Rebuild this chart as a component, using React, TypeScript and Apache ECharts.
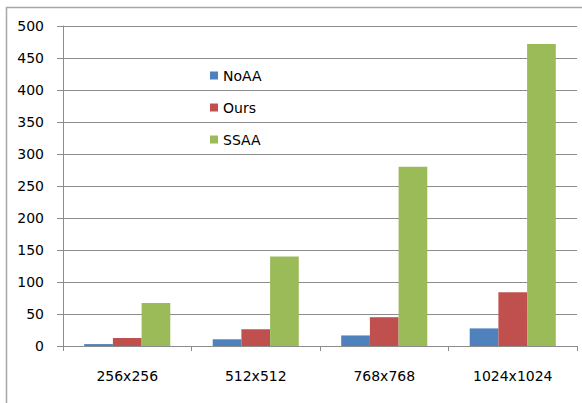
import React, { useEffect, useRef } from "react";
import * as echarts from "echarts";

const categories = ["256x256", "512x512", "768x768", "1024x1024"];
const noAA = [3, 10.5, 16.5, 27.5];
const ours = [12.5, 26, 45, 84];
const ssaa = [67, 140, 280, 472];
const yTicks = { min: 0, max: 500, interval: 50 };

export default function App() {
  const ref = useRef<HTMLDivElement>(null);
  useEffect(() => {
    if (!ref.current) return;
    const chart = echarts.init(ref.current, undefined, { renderer: "svg" });
    const font = "DejaVu Sans";
    chart.setOption({
      animation: false,
      backgroundColor: "#ffffff",
      textStyle: { fontFamily: font },
      graphic: [
        {
          type: "rect",
          shape: { x: 6.5, y: 7.5, width: 620, height: 450 },
          style: { fill: "none", stroke: "#a6a6a6", lineWidth: 1.5 },
          silent: true,
        },
      ],
      grid: { left: 63, top: 26, right: 5, bottom: 57, containLabel: false },
      legend: {
        orient: "vertical",
        left: 205,
        top: 62,
        itemWidth: 8,
        itemHeight: 8,
        itemGap: 15,
        icon: "rect",
        textStyle: { fontFamily: font, fontSize: 14, color: "#000", lineHeight: 17, padding: [0, 0, 0, 0] },
        data: ["NoAA", "Ours", "SSAA"],
      },
      xAxis: {
        type: "category",
        data: categories,
        boundaryGap: true,
        axisLine: { lineStyle: { color: "#8c8c8c", width: 1 } },
        axisTick: { show: true, length: 5, lineStyle: { color: "#8c8c8c" } },
        axisLabel: { fontFamily: font, fontSize: 14, color: "#000", margin: 23 },
      },
      yAxis: {
        type: "value",
        min: yTicks.min,
        max: yTicks.max,
        interval: yTicks.interval,
        axisLine: { show: true, lineStyle: { color: "#8c8c8c", width: 1 } },
        axisTick: { show: true, length: 6, lineStyle: { color: "#8c8c8c" } },
        axisLabel: { fontFamily: font, fontSize: 14, color: "#000", margin: 19 },
        splitLine: { show: true, lineStyle: { color: "#8c8c8c", width: 1 } },
      },
      series: [
        { name: "NoAA", type: "bar", data: noAA, itemStyle: { color: "#4F81BD" }, barGap: "0%", barCategoryGap: "33%" },
        { name: "Ours", type: "bar", data: ours, itemStyle: { color: "#C0504D" }, barGap: "0%", barCategoryGap: "33%" },
        { name: "SSAA", type: "bar", data: ssaa, itemStyle: { color: "#9BBB59" }, barGap: "0%", barCategoryGap: "33%" },
      ],
    });
    return () => chart.dispose();
  }, []);
  return (
    <div
      ref={ref}
      style={{ position: "fixed", left: 0, top: 0, width: 582, height: 403 }}
    />
  );
}
